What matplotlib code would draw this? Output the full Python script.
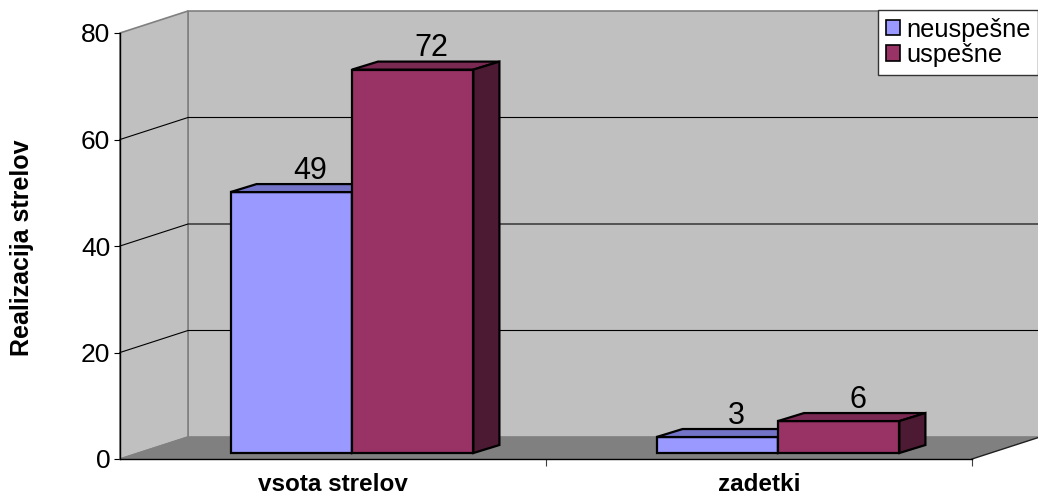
import matplotlib
matplotlib.use("Agg")
from matplotlib import pyplot as plt
from matplotlib.patches import Polygon, Patch

plt.rcParams['font.family'] = ['Liberation Sans', 'DejaVu Sans']

categories = ["vsota strelov", "zadetki"]
series_names = ["neuspešne", "uspešne"]
neuspesne = [49, 3]
uspesne = [72, 6]
yticks = [0, 20, 40, 60, 80]

front_col = ["#9999ff", "#993366"]
top_col = ["#7373c8", "#7a2952"]
side_col = ["#5c5ca0", "#4d1a33"]

W, H = 1038, 496
fig = plt.figure(figsize=(W / 100, H / 100), dpi=100)
# front plane of the 3d box
ax_l, ax_r, ax_b, ax_t = 120, 972, 459, 33
ax = fig.add_axes([ax_l / W, (H - ax_b) / H, (ax_r - ax_l) / W, (ax_b - ax_t) / H])
ax.set_xlim(0, 2)
ax.set_ylim(0, 80)

# pixel -> data unit helpers for the depth offset
px_x = 2 / (ax_r - ax_l)
px_y = 80 / (ax_b - ax_t)
wdx, wdy = 68 * px_x, 22 * px_y          # wall depth
fdx, fdy = 19 * px_x, 6 * px_y           # bar front
bdx, bdy = 45 * px_x, 14 * px_y          # bar back

def poly(pts, fc, ec, lw=1.0, z=1):
    ax.add_patch(Polygon(pts, closed=True, facecolor=fc, edgecolor=ec,
                         linewidth=lw, zorder=z, clip_on=False))

# walls and floor
wall_c = "#c0c0c0"
edge_c = "#808080"
poly([(wdx, wdy), (2 + wdx, wdy), (2 + wdx, 80 + wdy), (wdx, 80 + wdy)], wall_c, edge_c, 1.2)
poly([(0, 0), (wdx, wdy), (wdx, 80 + wdy), (0, 80)], wall_c, edge_c, 1.2)
poly([(0, 0), (2, 0), (2 + wdx, wdy), (wdx, wdy)], "#808080", "none", 0)
ax.plot([2, 2 + wdx], [0, wdy], color="#202020", lw=1, clip_on=False, zorder=2)
ax.plot([0, wdx], [0, wdy], color=edge_c, lw=1, clip_on=False, zorder=2)

for v in yticks[1:-1]:
    ax.plot([0, wdx, 2 + wdx], [v, v + wdy, v + wdy], color="black", lw=0.8,
            clip_on=False, zorder=1.5)

# 3d bars
bw = 0.285
lab_dx = 38 * px_x
for ci, cat in enumerate(categories):
    for si, vals in enumerate([neuspesne, uspesne]):
        v = vals[ci]
        x0 = ci + 0.5 - bw + si * bw
        x1 = x0 + bw
        z = 3 + si
        poly([(x0 + fdx, fdy), (x1 + fdx, fdy), (x1 + fdx, v + fdy), (x0 + fdx, v + fdy)],
             front_col[si], "black", 1.6, z)
        poly([(x0 + fdx, v + fdy), (x1 + fdx, v + fdy), (x1 + bdx, v + bdy), (x0 + bdx, v + bdy)],
             top_col[si], "black", 1.6, z)
        poly([(x1 + fdx, fdy), (x1 + bdx, bdy), (x1 + bdx, v + bdy), (x1 + fdx, v + fdy)],
             side_col[si], "black", 1.6, z)
        ax.text((x0 + x1) / 2 + lab_dx, v + bdy + 1.0, str(v), ha="center", va="baseline",
                fontsize=22, zorder=6)

# axes
for s in ["top", "right"]:
    ax.spines[s].set_visible(False)
ax.spines["left"].set_linewidth(1)
ax.spines["bottom"].set_linewidth(1)
ax.spines["left"].set_zorder(2)
ax.spines["bottom"].set_zorder(2)
ax.set_yticks(yticks)
ax.tick_params(axis="y", length=4.5, labelsize=19, pad=2.5)
ax.set_xticks([1, 2])
ax.set_xticklabels([])
ax.tick_params(axis="x", length=5, color="#404040")
ax.patch.set_visible(False)
for ci, cat in enumerate(categories):
    ax.text(ci + 0.5, -32 * px_y, cat, ha="center", va="baseline", fontsize=17.5,
            fontweight="bold")
fig.text(22 / W, 0.5, "Realizacija strelov", rotation=90, ha="center", va="center",
         fontsize=18, fontweight="bold")

# legend
handles = [Patch(facecolor=front_col[i], edgecolor="black", lw=1.2) for i in range(2)]
leg = fig.legend(handles, series_names, loc="upper right", bbox_to_anchor=(1.0, 1 - 10 / H),
                 fontsize=18.3, frameon=True, fancybox=False, borderpad=0.3,
                 handlelength=0.55, handleheight=0.55, handletextpad=0.25, labelspacing=0.05,
                 borderaxespad=0, framealpha=1, facecolor="white")
leg.get_frame().set_edgecolor("#333333")
leg.get_frame().set_linewidth(1)

fig.savefig("out.png", dpi=100, facecolor="white")
